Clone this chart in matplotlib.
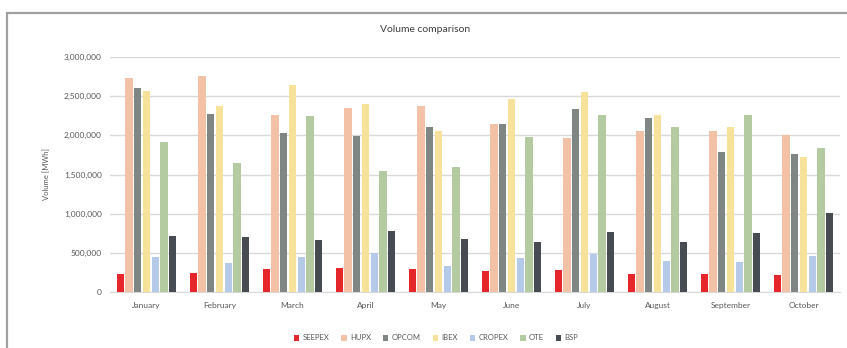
import matplotlib
matplotlib.use("Agg")
import matplotlib.pyplot as plt
import numpy as np
from matplotlib.patches import Rectangle

months = ["January", "February", "March", "April", "May", "June", "July",
          "August", "September", "October"]
series_names = ["SEEPEX", "HUPX", "OPCOM", "IBEX", "CROPEX", "OTE", "BSP"]
seepex = [228000, 247000, 290000, 310000, 290000, 268000, 281000, 230000, 230000, 217000]
hupx   = [2735000, 2760000, 2260000, 2345000, 2380000, 2140000, 1970000, 2060000, 2060000, 2000000]
opcom  = [2610000, 2270000, 2030000, 1990000, 2100000, 2140000, 2330000, 2220000, 1790000, 1760000]
ibex   = [2560000, 2370000, 2640000, 2400000, 2060000, 2460000, 2550000, 2260000, 2110000, 1720000]
cropex = [451000, 374000, 451000, 494000, 332000, 430000, 481000, 396000, 387000, 460000]
ote    = [1910000, 1650000, 2250000, 1550000, 1590000, 1975000, 2255000, 2110000, 2255000, 1835000]
bsp    = [719000, 706000, 664000, 783000, 672000, 642000, 766000, 638000, 749000, 1012000]
yticks = [0, 500000, 1000000, 1500000, 2000000, 2500000, 3000000]

colors = ["#E5262B", "#F3C2A6", "#808683", "#F7E29B", "#B5C9E9", "#B4CBA2", "#474C52"]
data = [seepex, hupx, opcom, ibex, cropex, ote, bsp]

plt.rcParams['font.family'] = ['Lato', 'DejaVu Sans']
txt = "#595959"

fig = plt.figure(figsize=(8.47, 3.48), dpi=100)
# outer chart frame (cropped at right/bottom)
fig.patches.append(Rectangle((7/847, -0.5), 1.5, 1 - 13/348 + 0.5, transform=fig.transFigure,
                             fill=False, edgecolor="#A0A0A0", linewidth=1.6, zorder=0))

ax = fig.add_axes([110/847, 1 - 292/348, 730/847, (292 - 57)/348])
x = np.arange(len(months))
slot = 0.12
bw = 0.10
for i, (vals, c, name) in enumerate(zip(data, colors, series_names)):
    ax.bar(x + (i - 3) * slot, vals, width=bw, color=c, label=name, zorder=3)

ax.set_xlim(-0.5, len(months) - 0.5)
ax.set_ylim(0, 3000000)
ax.set_yticks(yticks)
ax.set_yticklabels([f"{v:,}" for v in yticks])
ax.set_xticks(x)
ax.set_xticklabels(months)
ax.grid(axis="y", color="#D9D9D9", linewidth=1.0, zorder=0)
for s in ["top", "right", "left"]:
    ax.spines[s].set_visible(False)
ax.spines["bottom"].set_color("#D9D9D9")
ax.tick_params(axis="both", length=0, labelsize=6, colors=txt, pad=6)
ax.tick_params(axis="x", pad=7)
ax.set_ylabel("Volume [MWh]", fontsize=5.5, color=txt, labelpad=10)

fig.text(425/847, 1 - 30/348, "Volume comparison", ha="center", va="center",
         fontsize=7.5, color="#404040")

leg = fig.legend(loc="center", bbox_to_anchor=(436/847, 1 - 338/348), ncol=7,
                 frameon=False, fontsize=5.5, handlelength=0.7, handleheight=0.7,
                 handletextpad=0.4, columnspacing=1.6, borderaxespad=0)
for t in leg.get_texts():
    t.set_color(txt)

fig.savefig("out.png", dpi=100)
